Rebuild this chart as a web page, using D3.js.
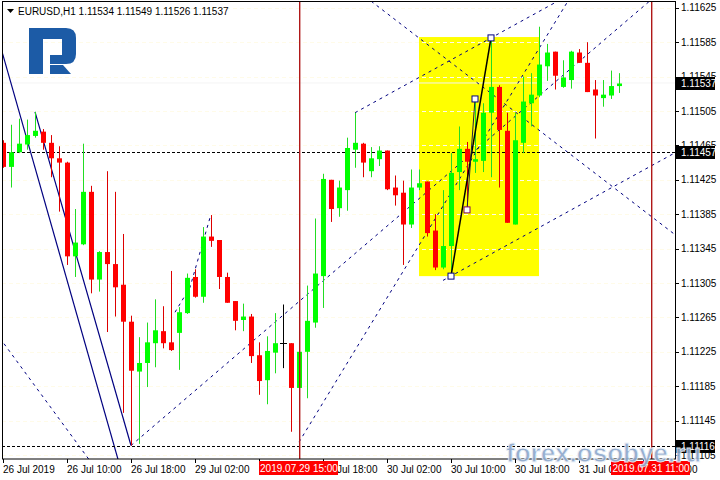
<!DOCTYPE html>
<html><head><meta charset="utf-8">
<script src="https://cdn.jsdelivr.net/npm/d3@7"></script>
<style>body{margin:0;background:#fff;} svg{display:block;}</style>
</head><body>
<svg id="c" width="720" height="480"></svg>
<script>
// ---- data (EURUSD H1, 26-31 Jul 2019) ----
const opens  = [1.11468,1.11440,1.11457,1.11466,1.11476,1.11481,1.11468,1.11450,1.11445,1.11336,
                1.11350,1.11411,1.11309,1.11341,1.11327,1.11303,1.11260,1.11202,1.11212,1.11235,
                1.11249,1.11236,1.11247,1.11270,1.11312,1.11289,1.11359,1.11355,1.11312,1.11284,
                1.11262,1.11266,1.11221,1.11192,1.11224,1.11235,1.11235,1.11183,1.11225,1.11259,
                1.11313,1.11425,1.11392,1.11413,1.11460,1.11467,1.11435,1.11449,1.11459,1.11416,
                1.11410,1.11373,1.11416,1.11423,1.11366,1.11323,1.11348,1.11434,1.11461,1.11446,
                1.11447,1.11503,1.11533,1.11482,1.11373,1.11468,1.11514,1.11523,1.11557,1.11574,
                1.11533,1.11541,1.11573,1.11561,1.11530,1.11520,1.11523,1.11534];
const highs  = [1.11471,1.11489,1.11496,1.11495,1.11504,1.11484,1.11477,1.11464,1.11446,1.11391,
                1.11467,1.11418,1.11342,1.11435,1.11411,1.11362,1.11267,1.11242,1.11259,1.11286,
                1.11278,1.11319,1.11277,1.11316,1.11321,1.11370,1.11384,1.11355,1.11317,1.11284,
                1.11281,1.11269,1.11236,1.11243,1.11270,1.11280,1.11235,1.11242,1.11302,1.11380,
                1.11432,1.11425,1.11424,1.11474,1.11503,1.11468,1.11463,1.11464,1.11459,1.11430,
                1.11424,1.11437,1.11437,1.11423,1.11385,1.11413,1.11456,1.11487,1.11469,1.11519,
                1.11514,1.11590,1.11535,1.11503,1.11503,1.11545,1.11549,1.11603,1.11583,1.11574,
                1.11564,1.11575,1.11577,1.11585,1.11541,1.11541,1.11552,1.11549];
const lows   = [1.11439,1.11416,1.11456,1.11460,1.11474,1.11460,1.11428,1.11388,1.11326,1.11312,
                1.11349,1.11293,1.11295,1.11248,1.11266,1.11154,1.11116,1.11118,1.11184,1.11207,
                1.11229,1.11226,1.11204,1.11269,1.11288,1.11282,1.11347,1.11298,1.11282,1.11250,
                1.11249,1.11212,1.11175,1.11164,1.11200,1.11206,1.11132,1.11120,1.11171,1.11253,
                1.11276,1.11376,1.11382,1.11389,1.11439,1.11428,1.11428,1.11441,1.11413,1.11395,
                1.11326,1.11369,1.11413,1.11359,1.11320,1.11321,1.11313,1.11413,1.11390,1.11433,
                1.11434,1.11428,1.11416,1.11375,1.11373,1.11456,1.11487,1.11521,1.11540,1.11530,
                1.11532,1.11531,1.11561,1.11527,1.11473,1.11510,1.11519,1.11526];
const closes = [1.11440,1.11457,1.11467,1.11477,1.11482,1.11468,1.11450,1.11445,1.11336,1.11352,
                1.11411,1.11309,1.11341,1.11327,1.11300,1.11260,1.11203,1.11212,1.11236,1.11250,
                1.11235,1.11227,1.11271,1.11311,1.11289,1.11359,1.11354,1.11312,1.11282,1.11261,
                1.11266,1.11220,1.11191,1.11226,1.11235,1.11235,1.11183,1.11225,1.11261,1.11316,
                1.11426,1.11391,1.11416,1.11462,1.11468,1.11445,1.11450,1.11459,1.11414,1.11407,
                1.11373,1.11416,1.11421,1.11363,1.11323,1.11348,1.11433,1.11461,1.11446,1.11449,
                1.11503,1.11533,1.11483,1.11375,1.11471,1.11516,1.11524,1.11559,1.11573,1.11546,
                1.11544,1.11574,1.11561,1.11527,1.11523,1.11524,1.11534,1.11537];

const xTickIndex  = [0,8,16,24,32,40,48,56,64,72,80];
const xTickLabels = ["26 Jul 2019","26 Jul 10:00","26 Jul 18:00","29 Jul 02:00","29 Jul 10:00",
                     "29 Jul 18:00","30 Jul 02:00","30 Jul 10:00","30 Jul 18:00","31 Jul 02:00","31 Jul 10:00"];
const yTicks = [1.11105,1.11145,1.11185,1.11225,1.11265,1.11305,1.11345,1.11385,1.11425,
                1.11465,1.11505,1.11545,1.11585,1.11625];
const headerText = "EURUSD,H1  1.11534 1.11549 1.11526 1.11537";
const levelPrices = [1.11457, 1.11116];
const bidPrice = 1.11537;
const vLineIndex  = [37, 81];
const vLineLabels = ["2019.07.29 15:00", "2019.07.31 11:00"];
const boxIndex = [52, 67];
const boxPrice = [1.11313, 1.11591];
// trend lines: anchor [index, price] pairs
const solidLines = [
  {a:[0,1.11570], b:[14.375,1.11100], ext:"both"},
  {a:[4,1.11504], b:[16,1.11116], ext:"none"}
];
const dashedLines = [
  {a:[0,1.11236],      b:[9.625,1.11114],  ext:"both"},
  {a:[16,1.11116],     b:[51.875,1.11402], ext:"right"},
  {a:[37,1.11120],     b:[70.5,1.11631],   ext:"right"},
  {a:[46.25,1.11631],  b:[83.75,1.11363],  ext:"both"},
  {a:[44,1.11503],     b:[61,1.11590],     ext:"right"},
  {a:[55,1.11308],     b:[72,1.11395],     ext:"right"}
];
const dashedPoly = [[21.5,1.11271],[23.375,1.11300],[25.875,1.11381]];
const zigMain  = [[56,1.11313],[61,1.11590]];
const zigThin  = [[59,1.11519],[58,1.11390]];

// ---- drawing ----
const svg = d3.select("#c");
const L = 2, R = 675, T = 2, B = 459;
const x = d3.scaleLinear().domain([0, 1]).range([3, 11]);
const y = d3.scaleLinear().domain([1.11105, 1.11625]).range([455, 7.8]);
const FONT = "'Liberation Sans', Arial, sans-serif";

svg.append("rect").attr("width",720).attr("height",480).attr("fill","#fff");
const defs = svg.append("defs");
defs.append("clipPath").attr("id","plot")
  .append("rect").attr("x",L).attr("y",T).attr("width",R-L).attr("height",B-T);
const plot = svg.append("g").attr("clip-path","url(#plot)");

// yellow rectangle
plot.append("rect")
  .attr("x", x(boxIndex[0])).attr("y", y(boxPrice[1]))
  .attr("width", x(boxIndex[1]) - x(boxIndex[0]))
  .attr("height", y(boxPrice[0]) - y(boxPrice[1]))
  .attr("fill", "#ffff00");

// grid (white dashed -> only visible on the yellow box)
plot.selectAll("line.grid").data(yTicks).enter().append("line")
  .attr("x1", L).attr("x2", R).attr("y1", d => Math.round(y(d))+0.5).attr("y2", d => Math.round(y(d))+0.5)
  .attr("stroke", "#fffbe8").attr("stroke-dasharray", "4,3");

// bid line
plot.append("line").attr("x1",L).attr("x2",R)
  .attr("y1", y(bidPrice)-0.5).attr("y2", y(bidPrice)-0.5)
  .attr("stroke","#f4f4f4");

function seg(l){
  let x1 = x(l.a[0]), y1 = y(l.a[1]), x2 = x(l.b[0]), y2 = y(l.b[1]);
  const dx = x2-x1, dy = y2-y1;
  let t0 = 0, t1 = 1;
  if (l.ext === "both") { t0 = -30; t1 = 30; }
  if (l.ext === "right") { t1 = 30; }
  return [x1+dx*t0, y1+dy*t0, x1+dx*t1, y1+dy*t1];
}
plot.selectAll("line.solid").data(solidLines).enter().append("line")
  .each(function(d){ const s = seg(d); d3.select(this).attr("x1",s[0]).attr("y1",s[1]).attr("x2",s[2]).attr("y2",s[3]); })
  .attr("stroke","#000080").attr("stroke-width",1.2);
plot.selectAll("line.dash").data(dashedLines).enter().append("line")
  .each(function(d){ const s = seg(d); d3.select(this).attr("x1",s[0]).attr("y1",s[1]).attr("x2",s[2]).attr("y2",s[3]); })
  .attr("stroke","#000080").attr("stroke-width",1).attr("stroke-dasharray","3,4");
plot.append("path")
  .attr("d", d3.line().x(d=>x(d[0])).y(d=>y(d[1]))(dashedPoly))
  .attr("fill","none").attr("stroke","#000080").attr("stroke-dasharray","3,4");

// horizontal levels
plot.selectAll("line.level").data(levelPrices).enter().append("line")
  .attr("x1",L).attr("x2",R)
  .attr("y1", d => Math.round(y(d))+0.5).attr("y2", d => Math.round(y(d))+0.5)
  .attr("stroke","#000").attr("stroke-dasharray","3,2");

// candles
const idx = d3.range(opens.length);
const colorOf = i => closes[i] > opens[i] ? "#00ff00" : (closes[i] < opens[i] ? "#ff0000" : "#000000");
const wickOf = i => closes[i] > opens[i] ? "#22dd22" : (closes[i] < opens[i] ? "#dd0000" : "#000000");
const cg = plot.append("g");
cg.selectAll("line.wick").data(idx).enter().append("line")
  .attr("x1", i => Math.round(x(i))+0.5).attr("x2", i => Math.round(x(i))+0.5)
  .attr("y1", i => y(highs[i])).attr("y2", i => y(lows[i]))
  .attr("stroke", wickOf).attr("stroke-width",1);
cg.selectAll("rect.body").data(idx.filter(i => opens[i] !== closes[i])).enter().append("rect")
  .attr("x", i => Math.round(x(i)) - 2).attr("width", 5)
  .attr("y", i => y(Math.max(opens[i], closes[i])))
  .attr("height", i => Math.max(1, Math.abs(y(opens[i]) - y(closes[i]))))
  .attr("fill", colorOf);
cg.selectAll("line.doji").data(idx.filter(i => opens[i] === closes[i])).enter().append("line")
  .attr("x1", i => Math.round(x(i)) - 3).attr("x2", i => Math.round(x(i)) + 4)
  .attr("y1", i => Math.round(y(opens[i]))+0.5).attr("y2", i => Math.round(y(opens[i]))+0.5)
  .attr("stroke","#000");

// zigzag tool
plot.append("path").attr("d", d3.line().x(d=>x(d[0])).y(d=>y(d[1]))(zigMain))
  .attr("stroke","#000").attr("stroke-width",1.5).attr("fill","none");
plot.append("path").attr("d", d3.line().x(d=>x(d[0])).y(d=>y(d[1]))(zigThin))
  .attr("stroke","#202040").attr("stroke-width",1).attr("fill","none");
const markers = zigMain.concat(zigThin);
plot.selectAll("rect.mk").data(markers).enter().append("rect")
  .attr("x", d => x(d[0]) - 3).attr("y", d => y(d[1]) - 3)
  .attr("width", 6).attr("height", 6)
  .attr("fill", "#fff").attr("stroke", (d,i) => i === 3 ? "#800060" : "#000080").attr("stroke-width", 1);

// vertical red lines (drawn as thin filled rects so the colour stays solid)
svg.selectAll("rect.vline").data(vLineIndex).enter().append("rect")
  .attr("class","vline")
  .attr("x", i => Math.round(x(i))).attr("width", 1.4)
  .attr("y", T).attr("height", B - T).attr("fill","#b01818");

// frame
svg.append("rect").attr("x",L+0.5).attr("y",T-0.5).attr("width",R-L).attr("height",B-T+0.5)
  .attr("fill","none").attr("stroke","#000").attr("stroke-width",1);

// logo
const logo = svg.append("g").attr("fill","#1c5ba6");
logo.append("path").attr("d","M29,28 H43 V74 H29 Z");
logo.append("path").attr("d","M43,28 H66 Q76,28 76,38 V54 Q76,64 66,64 H50 V55 H62 V39 H43 Z");
logo.append("path").attr("d","M50,65 H63 L71,74 H50 Z");

// header
svg.append("path").attr("d","M7,9 L14,9 L10.5,13 Z").attr("fill","#000");
svg.append("text").attr("x",18).attr("y",15).attr("font-family",FONT).attr("font-size",10)
  .attr("fill","#000").text(headerText);

// right axis
const boxes = [bidPrice].concat(levelPrices);
const ax = svg.append("g");
const yClip = defs.append("clipPath").attr("id","yclip");
const boxTops = boxes.map(d => Math.round(y(d)) - 6).sort((a,b)=>a-b);
let prev = 0;
boxTops.forEach(t => { yClip.append("rect").attr("x",R).attr("y",prev).attr("width",720-R).attr("height",Math.max(0,t-prev)); prev = t + 13; });
yClip.append("rect").attr("x",R).attr("y",prev).attr("width",720-R).attr("height",480-prev);

ax.selectAll("line.yt").data(yTicks).enter().append("line")
  .attr("x1",R).attr("x2",R+4).attr("y1",d=>Math.round(y(d))+0.5).attr("y2",d=>Math.round(y(d))+0.5)
  .attr("stroke","#000");
ax.append("g").attr("clip-path","url(#yclip)")
  .selectAll("text.yl").data(yTicks).enter().append("text")
  .attr("x",R+6).attr("y",d=>y(d)+3.5).attr("font-family",FONT).attr("font-size",10)
  .attr("fill","#000").text(d=>d.toFixed(5));
ax.selectAll("rect.pb").data(boxes).enter().append("rect")
  .attr("x",R+1).attr("y",d=>Math.round(y(d))-6).attr("width",39).attr("height",13).attr("fill","#000");
ax.selectAll("text.pb").data(boxes).enter().append("text")
  .attr("x",R+6).attr("y",d=>Math.round(y(d))+4).attr("font-family",FONT).attr("font-size",10)
  .attr("fill","#fff").text(d=>d.toFixed(5));

// bottom axis
const boxW = 79;
const vBoxes = vLineIndex.map(i => [x(i) - 40, x(i) - 40 + boxW]);
const xClip = defs.append("clipPath").attr("id","xclip");
let px = 0;
vBoxes.forEach(b => { xClip.append("rect").attr("x",px).attr("y",B).attr("width",Math.max(0,b[0]-px)).attr("height",480-B); px = b[1]; });
xClip.append("rect").attr("x",px).attr("y",B).attr("width",720-px).attr("height",480-B);

ax.selectAll("line.xt").data(xTickIndex).enter().append("line")
  .attr("x1",i=>Math.round(x(i))+0.5).attr("x2",i=>Math.round(x(i))+0.5).attr("y1",B).attr("y2",B+4)
  .attr("stroke","#000");
const labelW = 50;
const shown = xTickIndex.map((i,k)=>k).filter(k => {
  const s = x(xTickIndex[k]), e = s + labelW;
  return !vBoxes.some(b => s >= b[0] - 1 && e <= b[1] + 1);
});
ax.append("g").attr("clip-path","url(#xclip)")
  .selectAll("text.xl").data(shown).enter().append("text")
  .attr("x",k=>x(xTickIndex[k])).attr("y",473).attr("font-family",FONT).attr("font-size",10)
  .attr("fill","#000").text(k=>xTickLabels[k]);
ax.selectAll("rect.vb").data(vLineIndex).enter().append("rect")
  .attr("x",i=>x(i)-40).attr("y",461).attr("width",boxW).attr("height",14).attr("fill","#ff0000");
ax.selectAll("text.vb").data(vLineIndex).enter().append("text")
  .attr("x",i=>x(i)).attr("y",472).attr("text-anchor","middle").attr("font-family",FONT).attr("font-size",10)
  .attr("fill","#fff").text((i,k)=>vLineLabels[k]);

// watermark
svg.append("text").attr("x",506).attr("y",462)
  .attr("font-family",FONT).attr("font-weight","bold").attr("font-size",26)
  .attr("fill","#8fa9cd").attr("stroke","#eef3fa").attr("stroke-width",0.8).attr("opacity",0.92)
  .text("forex.osobye.ru");
</script>
</body></html>
